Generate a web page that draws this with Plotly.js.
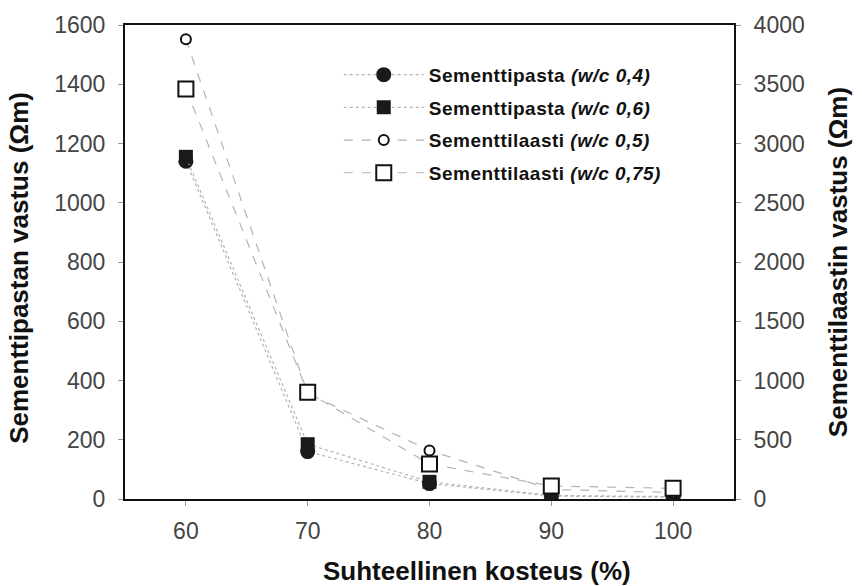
<!DOCTYPE html>
<html>
<head>
<meta charset="utf-8">
<script src="https://cdn.plot.ly/plotly-3.0.1.min.js"></script>
<style>
html,body{margin:0;padding:0;background:#fff;}
#chart{width:862px;height:586px;}
text.legendtext{letter-spacing:0.5px;}
</style>
</head>
<body>
<div id="chart"></div>
<script>
const humidity = [60, 70, 80, 90, 100];
const pasta04 = [1140, 160, 52, 10, 6];
const pasta06 = [1155, 185, 58, 12, 8];
const laasti05 = [3880, 890, 410, 80, 55];
const laasti075 = [3460, 900, 295, 110, 90];
const xTitle = 'Suhteellinen kosteus (%)';
const yTitle = 'Sementtipastan vastus (Ωm)';
const y2Title = 'Sementtilaastin vastus (Ωm)';
const names = [
  '<b>Sementtipasta <i>(w/c 0,4)</i></b>',
  '<b>Sementtipasta <i>(w/c 0,6)</i></b>',
  '<b>Sementtilaasti <i>(w/c 0,5)</i></b>',
  '<b>Sementtilaasti <i>(w/c 0,75)</i></b>'
];
const lineCol = '#b4b4b4';
const traces = [
  {x: humidity, y: pasta04, name: names[0], legendgroup: 'a', mode: 'lines+markers', yaxis: 'y',
   line: {color: lineCol, width: 1.2, dash: 'dot'},
   marker: {symbol: 'circle', size: 15, color: '#1a1a1a'}},
  {x: humidity, y: pasta06, name: names[1], legendgroup: 'b', mode: 'lines+markers', yaxis: 'y',
   line: {color: lineCol, width: 1.2, dash: 'dot'},
   marker: {symbol: 'square', size: 14, color: '#1a1a1a'}},
  {x: humidity, y: laasti05, name: names[2], legendgroup: 'c', mode: 'lines+markers', yaxis: 'y2',
   line: {color: lineCol, width: 1.2, dash: 'dash'},
   marker: {symbol: 'circle', size: 10, color: '#fff', line: {width: 2, color: '#111'}}},
  {x: humidity, y: laasti075, name: names[3], legendgroup: 'd', mode: 'lines+markers', yaxis: 'y2',
   line: {color: lineCol, width: 1.2, dash: 'dash'},
   marker: {symbol: 'square', size: 15, color: '#fff', line: {width: 2, color: '#111'}}}
];
const font = 'Liberation Sans, Arial, sans-serif';
const titleFont = {family: font, size: 26, color: '#111'};
const layout = {
  width: 862, height: 586,
  margin: {l: 125, r: 128, t: 25, b: 87},
  paper_bgcolor: '#fff', plot_bgcolor: '#fff',
  font: {family: font, color: '#333', size: 20},
  showlegend: true,
  legend: {x: 0.351, y: 0.935, xanchor: 'left', yanchor: 'top', bgcolor: 'rgba(0,0,0,0)',
    font: {family: font, size: 19, color: '#111'}, tracegroupgap: 5, itemwidth: 80},
  xaxis: {range: [55, 105], tickvals: humidity, ticktext: humidity.map(String),
    showgrid: false, zeroline: false, showline: true, linecolor: '#111', linewidth: 2,
    mirror: true, ticks: 'outside', ticklen: 5, tickcolor: '#999', ticklabelstandoff: 5,
    tickfont: {size: 23, color: '#444'}},
  yaxis: {range: [0, 1600], dtick: 200, showgrid: false, zeroline: false,
    showline: true, linecolor: '#111', linewidth: 2, ticks: 'outside', ticklen: 5, tickcolor: '#999',
    ticklabelstandoff: 8, tickfont: {size: 23, color: '#444'}},
  yaxis2: {range: [0, 4000], dtick: 500, overlaying: 'y', side: 'right', showgrid: false, zeroline: false,
    showline: true, linecolor: '#111', linewidth: 2, ticks: 'outside', ticklen: 5, tickcolor: '#999',
    ticklabelstandoff: 8, tickfont: {size: 23, color: '#444'},
    title: {text: '<b>' + y2Title + '</b>', font: titleFont, standoff: 25}},
  annotations: [
    {text: '<b>' + xTitle + '</b>', xref: 'paper', yref: 'paper', x: 0.578, y: -0.152,
     xanchor: 'center', yanchor: 'middle', showarrow: false, font: titleFont},
    {text: '<b>' + yTitle + '</b>', xref: 'paper', yref: 'paper', x: -0.173, y: 0.487,
     xanchor: 'center', yanchor: 'middle', textangle: -90, showarrow: false, font: titleFont}
  ]
};
Plotly.newPlot('chart', traces, layout, {displayModeBar: false, staticPlot: true});
</script>
</body>
</html>
